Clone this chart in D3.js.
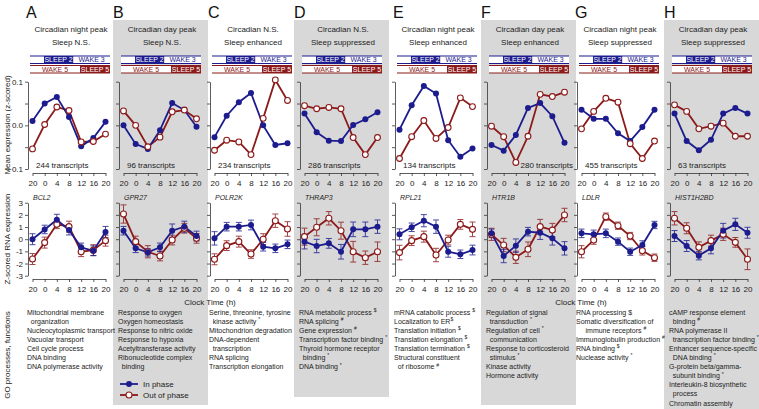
<!DOCTYPE html>
<html><head><meta charset="utf-8">
<script src="https://cdn.jsdelivr.net/npm/d3@7"></script>
<style>body{margin:0;background:#fff}svg{display:block;font-family:"Liberation Sans",Arial,sans-serif}</style>
</head><body><svg id="c" width="759" height="409"></svg>
<script>
// ---------------- data ----------------
const panelLetters = ["A","B","C","D","E","F","G","H"];
const titleLine1 = ["Circadian night peak","Circadian day peak","Circadian N.S.","Circadian N.S.","Circadian night peak","Circadian day peak","Circadian night peak","Circadian day peak"];
const titleLine2 = ["Sleep N.S.","Sleep N.S.","Sleep enhanced","Sleep suppressed","Sleep enhanced","Sleep enhanced","Sleep suppressed","Sleep suppressed"];
const clockTimes = ["20","0","4","8","12","16","20"];
const transcriptCounts = [244,96,234,286,134,280,455,63];
const geneNames = ["BCL2","GPR27","POLR2K","THRAP3","RPL21","HTR1B","LDLR","HIST1H2BD"];
const topTicks = [-0.1,-0.05,0,0.05,0.1];
const bottomTicks = [-3,-2,-1,0,1,2,3];
const legendLabels = ["In phase","Out of phase"];

const meanInPhase = [
  [0.010,0.050,0.065,0.019,-0.048,-0.029,0.008],
  [0.000,-0.043,-0.054,-0.011,0.051,0.035,-0.003],
  [-0.027,0.022,0.053,0.074,0.000,-0.045,-0.041],
  [0.027,-0.016,-0.035,-0.036,0.001,0.014,0.030],
  [-0.010,0.046,0.090,0.073,-0.034,-0.072,-0.053],
  [-0.045,-0.058,-0.022,0.040,0.051,0.021,-0.040],
  [0.036,0.015,0.015,-0.018,-0.036,-0.004,0.036],
  [0.027,-0.036,-0.057,-0.033,0.027,0.040,0.027]
];
const meanOutPhase = [
  [-0.054,0.002,0.042,0.034,-0.038,-0.037,-0.020],
  [0.033,0.000,-0.049,-0.027,0.031,0.035,0.015],
  [-0.057,-0.034,-0.038,-0.067,0.016,0.104,0.057],
  [0.045,0.038,0.041,0.038,-0.028,-0.067,-0.028],
  [-0.076,-0.026,0.011,-0.030,-0.005,0.063,0.043],
  [-0.002,-0.026,-0.085,-0.025,0.071,0.066,0.076],
  [-0.008,0.032,0.062,0.053,-0.042,-0.076,-0.036],
  [0.047,0.032,-0.008,-0.002,0.005,-0.025,-0.025]
];
const geneInPhase = [
  [0.0,0.8,1.6,0.75,-0.67,-0.95,0.6],
  [0.7,-0.75,-1.08,-0.67,0.7,1.03,0.26],
  [0.07,1.03,1.03,1.17,-0.62,-0.75,-0.42],
  [-0.2,-0.56,-0.34,-1.03,0.81,0.81,1.03],
  [0.4,0.98,1.52,1.03,-1.03,-1.24,-0.89],
  [0.48,-1.38,-0.53,0.62,0.53,0.07,-0.75],
  [0.48,0.4,0.48,-0.2,-1.03,-0.48,1.17],
  [0.26,-0.56,-1.35,-0.75,0.7,1.22,0.53]
];
const geneInErr = [
  [0.45,0.35,0.45,0.4,0.35,0.4,0.45],
  [0.35,0.35,0.3,0.35,0.55,0.45,0.4],
  [0.55,0.35,0.35,0.4,0.35,0.35,0.35],
  [0.6,0.55,0.4,0.6,0.6,0.6,0.55],
  [0.45,0.35,0.5,0.55,0.45,0.35,0.4],
  [0.35,0.55,0.55,0.35,0.55,0.55,0.55],
  [0.35,0.35,0.35,0.3,0.3,0.35,0.3],
  [0.45,0.45,0.35,0.45,0.6,0.5,0.45]
];
const geneOutPhase = [
  [-1.63,-0.28,1.22,1.03,-1.03,-0.9,-0.12],
  [2.07,-0.2,-1.03,-1.38,-0.07,0.9,0.07],
  [-1.65,-0.53,-0.2,-1.22,0.0,1.52,0.84],
  [0.21,0.98,1.72,0.7,-1.03,-1.52,-1.03],
  [-1.1,-0.12,0.21,-1.3,-0.07,1.22,0.81],
  [0.4,-0.48,-1.49,-0.83,1.03,0.75,1.99],
  [-1.03,-0.07,1.85,1.11,0.26,-0.95,-1.52],
  [1.72,0.9,-0.67,-0.12,0.4,-0.26,-1.65]
];
const geneOutErr = [
  [0.45,0.45,0.35,0.45,0.4,0.45,0.45],
  [0.75,0.45,0.5,0.4,0.4,0.4,0.4],
  [0.45,0.4,0.45,0.35,0.45,0.55,0.6],
  [0.7,0.7,0.55,0.7,0.85,0.55,0.8],
  [0.6,0.4,0.45,0.55,0.4,0.4,0.6],
  [0.5,0.55,0.5,0.6,0.6,0.55,0.55],
  [0.5,0.35,0.3,0.3,0.3,0.35,0.3],
  [0.55,0.45,0.45,0.45,0.5,0.4,0.85]
];
const goTerms = [
  ["Mitochondrial membrane","  organization","Nucleocytoplasmic transport","Vacuolar transport","Cell cycle process","DNA binding","DNA polymerase activity"],
  ["Response to oxygen","Oxygen homeostasis","Response to nitric oxide","Response to hypoxia","Acetyltransferase activity","Ribonucleotide complex","  binding"],
  ["Serine, threonine, tyrosine","  kinase activity ^*","Mitochondrion degradation","DNA-dependent","  transcription","RNA splicing","Transcription elongation"],
  ["RNA metabolic process ^$","RNA splicing ^#","Gene expression ^#","Transcription factor binding ^*","Thyroid hormone receptor","  binding ^*","DNA binding ^*"],
  ["mRNA catabolic process ^$","Localization to ER^$","Translation initiation ^$","Translation elongation ^$","Translation termination ^$","Structural constituent","  of ribosome ^#"],
  ["Regulation of signal","  transduction ^*","Regulation of cell ^*","  communication","Response to corticosteroid","  stimulus ^*","Kinase activity","Hormone activity"],
  ["RNA processing $","Somatic diversification of","     immune receptors ^#","Immunoglobulin production ^#","RNA binding ^$","Nuclease activity ^*"],
  ["cAMP response element","  binding ^#","RNA polymerase II","  transcription factor binding ^*","Enhancer sequence-specific","  DNA binding ^*","G-protein beta/gamma-","  subunit binding ^*","Interleukin-8 biosynthetic","  process","Chromatin assembly"]
];

// ---------------- layout / style ----------------
const axisX = [28,119,210,300,395,487,577,670];
const grayBottom = [0,405,0,397,0,405,0,409];
const BLUE = "#1c1c8e", RED = "#8c1a1a", GRAY = "#d8d8d8", INK = "#222";

const svg = d3.select("#c");
const yTop = d3.scaleLinear().domain([-0.1,0.1]).range([169,81.7]);
const yBot = d3.scaleLinear().domain([-3,3]).range([275.7,202.7]);

// gray backgrounds
panelLetters.forEach((p,i)=>{
  if(i%2===1){
    svg.append("rect").attr("x",axisX[i]-6).attr("y",20).attr("width",95)
      .attr("height",grayBottom[i]-20).attr("fill",GRAY);
  }
});

function styleAxis(g){
  g.selectAll("path,line").attr("stroke","#333").attr("stroke-width",0.8);
  g.selectAll("text").attr("fill",INK).attr("font-size",8).attr("font-family","Liberation Sans, Arial, sans-serif");
}

panelLetters.forEach((p,i)=>{
  const ax = axisX[i];
  const g = svg.append("g");
  const x = d3.scaleLinear().domain([0,6]).range([ax+4.5, ax+77.5]);
  const idx = d3.range(7);

  // letter
  g.append("text").attr("x", i%2 ? ax-6 : ax-2).attr("y",18).attr("font-size",16).attr("fill","#111").text(p);
  // titles
  g.append("text").attr("x",ax+43).attr("y",32).attr("text-anchor","middle").attr("font-size",8).attr("fill",INK).text(titleLine1[i]);
  g.append("text").attr("x",ax+43).attr("y",44.5).attr("text-anchor","middle").attr("font-size",8).attr("fill",INK).text(titleLine2[i]);

  // sleep/wake bars
  const bx = ax+2, bw = 80;
  const rows = [
    {y:56, col:BLUE, seg:[[0,0.175,null,""],[0.175,0.54,"fill","SLEEP 2"],[0.54,1,null,"WAKE 3"]]},
    {y:65.5, col:RED, seg:[[0,0.625,null,"WAKE 5"],[0.625,1,"fill","SLEEP 5"]]}
  ];
  rows.forEach(r=>{
    g.append("rect").attr("x",bx).attr("y",r.y).attr("width",bw).attr("height",7.5).attr("fill","#fff");
    r.seg.forEach(s=>{
      const sx = bx + s[0]*bw, sw = (s[1]-s[0])*bw;
      if(s[2]) g.append("rect").attr("x",sx).attr("y",r.y).attr("width",sw).attr("height",7.5).attr("fill",r.col);
      if(s[3]) g.append("text").attr("x",sx+sw/2+(s[2]?0:0)).attr("y",r.y+6.2).attr("text-anchor","middle")
        .attr("font-size",7).attr("fill",s[2]?"#fff":r.col).text(s[3]);
    });
    g.append("line").attr("x1",bx).attr("x2",bx+bw).attr("y1",r.y).attr("y2",r.y).attr("stroke",r.col).attr("stroke-width",1.2);
    g.append("line").attr("x1",bx).attr("x2",bx+bw).attr("y1",r.y+7.5).attr("y2",r.y+7.5).attr("stroke",r.col).attr("stroke-width",1.2);
  });

  // ---- top plot axes
  const ya = g.append("g").attr("transform",`translate(${ax},0)`)
    .call(d3.axisLeft(yTop).tickValues(topTicks).tickSize(3).tickSizeOuter(0).tickPadding(2)
      .tickFormat(d=> i===0 && Math.abs(d*100)%10<1e-6 ? d3.format(".1f")(d) : ""));
  styleAxis(ya);
  const xa = g.append("g").attr("transform","translate(0,173)")
    .call(d3.axisBottom(x).tickValues(idx).tickSize(3).tickSizeOuter(0).tickPadding(4).tickFormat(k=>clockTimes[k]));
  styleAxis(xa);

  const lineTop = d3.line().x((d,k)=>x(k)).y(d=>yTop(d));
  g.append("path").attr("d",lineTop(meanOutPhase[i])).attr("fill","none").attr("stroke",RED).attr("stroke-width",1.8);
  g.append("path").attr("d",lineTop(meanInPhase[i])).attr("fill","none").attr("stroke",BLUE).attr("stroke-width",1.8);
  g.selectAll(null).data(meanInPhase[i]).enter().append("circle")
    .attr("cx",(d,k)=>x(k)).attr("cy",d=>yTop(d)).attr("r",3).attr("fill",BLUE);
  g.selectAll(null).data(meanOutPhase[i]).enter().append("circle")
    .attr("cx",(d,k)=>x(k)).attr("cy",d=>yTop(d)).attr("r",2.9).attr("fill","#fff").attr("stroke",RED).attr("stroke-width",1.1);

  const tt = g.append("text").attr("y",167.5).attr("font-size",8).attr("fill",INK).text(transcriptCounts[i]+" transcripts");
  if(i===5) tt.attr("x",ax+86).attr("text-anchor","end"); else tt.attr("x",ax+8);

  // ---- bottom plot
  g.append("text").attr("x",ax+5).attr("y",200).attr("font-size",7).attr("font-style","italic").attr("fill",INK).text(geneNames[i]);
  const yb = g.append("g").attr("transform",`translate(${ax},0)`)
    .call(d3.axisLeft(yBot).tickValues(bottomTicks).tickSize(3).tickSizeOuter(0).tickPadding(2)
      .tickFormat(d=> i===0 ? d : ""));
  styleAxis(yb);
  const xb = g.append("g").attr("transform","translate(0,279)")
    .call(d3.axisBottom(x).tickValues(idx).tickSize(3).tickSizeOuter(0).tickPadding(4).tickFormat(k=>clockTimes[k]));
  styleAxis(xb);

  const series = [
    {v:geneOutPhase[i], e:geneOutErr[i], col:RED, open:true},
    {v:geneInPhase[i], e:geneInErr[i], col:BLUE, open:false}
  ];
  const lineBot = d3.line().x((d,k)=>x(k)).y(d=>yBot(d));
  series.forEach(s=>{
    const eg = g.append("g").attr("stroke",s.col).attr("stroke-width",1).attr("opacity",0.8);
    s.v.forEach((v,k)=>{
      const lo = yBot(v - s.e[k]), hi = yBot(v + s.e[k]);
      eg.append("line").attr("x1",x(k)).attr("x2",x(k)).attr("y1",lo).attr("y2",hi);
      eg.append("line").attr("x1",x(k)-3).attr("x2",x(k)+3).attr("y1",lo).attr("y2",lo);
      eg.append("line").attr("x1",x(k)-3).attr("x2",x(k)+3).attr("y1",hi).attr("y2",hi);
    });
  });
  series.forEach(s=>{
    g.append("path").attr("d",lineBot(s.v)).attr("fill","none").attr("stroke",s.col).attr("stroke-width",1.8);
  });
  series.forEach(s=>{
    g.selectAll(null).data(s.v).enter().append("circle")
      .attr("cx",(d,k)=>x(k)).attr("cy",d=>yBot(d)).attr("r",3)
      .attr("fill",s.open?"#fff":s.col).attr("stroke",s.open?s.col:"none").attr("stroke-width",1.1);
  });

  // ---- GO terms
  goTerms[i].forEach((t,k)=>{
    const m = t.match(/^(\s*)(.*)$/);
    const indent = m[1].length*1.9;
    const parts = m[2].split("^");
    const tx = g.append("text").attr("x",ax-1+indent).attr("y",314.5+k*9.1).attr("font-size",7).attr("fill",INK);
    tx.append("tspan").text(parts[0]);
    if(parts[1]) tx.append("tspan").attr("dy",-2.6).attr("font-size",5).text(parts[1]);
  });
});

// shared labels
[210,581].forEach(cx=>{
  svg.append("text").attr("x",cx).attr("y",305).attr("text-anchor","middle").attr("font-size",8).attr("fill",INK).text("Clock Time (h)");
});
[["Mean expression (z-scored)",125],["Z-scored RNA expression",239],["GO processes, functions",355]].forEach(([t,cy])=>{
  svg.append("text").attr("transform",`translate(9.5,${cy}) rotate(-90)`).attr("text-anchor","middle")
    .attr("font-size",8).attr("fill",INK).text(t);
});

// legend
const lg = svg.append("g");
[[BLUE,false,384],[RED,true,395]].forEach(([c,open,ly],k)=>{
  lg.append("line").attr("x1",120).attr("x2",138).attr("y1",ly).attr("y2",ly).attr("stroke",c).attr("stroke-width",1.8);
  lg.append("circle").attr("cx",129).attr("cy",ly).attr("r",3).attr("fill",open?"#fff":c).attr("stroke",open?c:"none").attr("stroke-width",1.1);
  lg.append("text").attr("x",143).attr("y",ly+3).attr("font-size",8).attr("fill",INK).text(legendLabels[k]);
});
</script></body></html>
